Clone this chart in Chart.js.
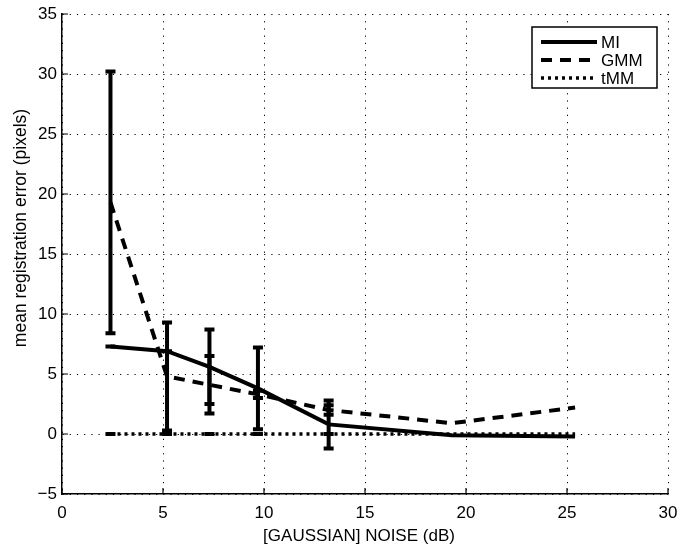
<!DOCTYPE html>
<html>
<head>
<meta charset="utf-8">
<script src="https://cdn.jsdelivr.net/npm/chart.js@4.4.1/dist/chart.umd.min.js"></script>
<style>
  body { margin: 0; background: #fff; }
  canvas { display: block; }
</style>
</head>
<body>
<canvas id="chart" width="679" height="553"></canvas>
<script>
// noise levels (dB) and mean registration error per method
const noiseDb = [2.4, 5.2, 7.3, 9.7, 13.2, 19.3, 25.4];
const miError = [7.3, 6.9, 5.6, 3.8, 0.8, -0.1, -0.2];
const gmmError = [19.3, 4.8, 4.1, 3.3, 2.0, 0.9, 2.2];
const tmmError = [0, 0, 0, 0, 0, 0, 0];

// half-length of the error bars (null = no bar drawn)
const miSpread = [0, 0, 3.1, 3.4, 2.0, null, null];
const gmmSpread = [10.9, 4.5, 2.4, 0.3, 0.4, null, null];
const tmmSpread = [0, 0, 0, 0, 0, null, null];

const xTicks = [0, 5, 10, 15, 20, 25, 30];
const yTicks = [-5, 0, 5, 10, 15, 20, 25, 30, 35];

const seriesNames = ['MI', 'GMM', 'tMM'];
const xTitle = '[GAUSSIAN] NOISE (dB)';
const yTitle = 'mean registration error (pixels)';

const FONT = 'Liberation Sans, Arial, Helvetica, sans-serif';

function toPoints(ys) {
    return noiseDb.map((x, i) => ({ x: x, y: ys[i] }));
}

// vertical error bars with caps, drawn from the scales
const errorBars = {
    id: 'errorBars',
    afterDatasetsDraw(chart) {
        const ctx = chart.ctx;
        const xs = chart.scales.x, ys = chart.scales.y;
        chart.data.datasets.forEach(ds => {
            if (!ds.spread) return;
            ds.data.forEach((p, i) => {
                const e = ds.spread[i];
                if (e === null || e === undefined) return;
                const px = xs.getPixelForValue(p.x);
                const top = ys.getPixelForValue(p.y + e);
                const bot = ys.getPixelForValue(p.y - e);
                ctx.save();
                ctx.strokeStyle = '#000';
                ctx.lineWidth = 4;
                ctx.setLineDash([]);
                ctx.beginPath();
                ctx.moveTo(px, top);
                ctx.lineTo(px, bot);
                ctx.moveTo(px - 5, top);
                ctx.lineTo(px + 5, top);
                ctx.moveTo(px - 5, bot);
                ctx.lineTo(px + 5, bot);
                ctx.stroke();
                ctx.restore();
            });
        });
    }
};

// inward tick marks on the left and bottom axes, plus both axis titles
const axisExtras = {
    id: 'axisExtras',
    afterDraw(chart) {
        const ctx = chart.ctx;
        const xs = chart.scales.x, ys = chart.scales.y;
        const area = chart.chartArea;
        ctx.save();
        ctx.strokeStyle = '#000';
        ctx.lineWidth = 1.2;
        ctx.beginPath();
        xTicks.forEach(v => {
            const px = xs.getPixelForValue(v);
            ctx.moveTo(px, area.bottom);
            ctx.lineTo(px, area.bottom - 6);
        });
        yTicks.forEach(v => {
            const py = ys.getPixelForValue(v);
            ctx.moveTo(area.left, py);
            ctx.lineTo(area.left + 6, py);
        });
        ctx.stroke();

        ctx.font = '17px ' + FONT;
        ctx.fillStyle = '#000';
        ctx.textAlign = 'center';
        ctx.textBaseline = 'middle';
        ctx.fillText(xTitle, 359, 536);

        ctx.translate(21, 228);
        ctx.rotate(-Math.PI / 2);
        ctx.font = '17.5px ' + FONT;
        ctx.fillText(yTitle, 0, 0);
        ctx.restore();
    }
};

// boxed legend in the upper right corner
const boxLegend = {
    id: 'boxLegend',
    afterDraw(chart) {
        const ctx = chart.ctx;
        const bx = 532, by = 27, bw = 125, bh = 61;
        ctx.save();
        ctx.fillStyle = '#fff';
        ctx.fillRect(bx, by, bw, bh);
        ctx.strokeStyle = '#000';
        ctx.lineWidth = 1.5;
        ctx.strokeRect(bx, by, bw, bh);
        ctx.font = '17px ' + FONT;
        ctx.textBaseline = 'middle';
        ctx.fillStyle = '#000';
        chart.data.datasets.forEach((ds, i) => {
            const y = by + 15 + i * 18;
            ctx.lineWidth = ds.borderWidth;
            ctx.setLineDash(ds.borderDash || []);
            ctx.beginPath();
            ctx.moveTo(541, y);
            ctx.lineTo(597, y);
            ctx.stroke();
            ctx.setLineDash([]);
            ctx.fillText(ds.label, 601, y + 1);
        });
        ctx.restore();
    }
};

new Chart(document.getElementById('chart'), {
    type: 'line',
    data: {
        datasets: [
            {
                label: seriesNames[0],
                data: toPoints(miError),
                spread: miSpread,
                borderColor: '#000',
                borderWidth: 4,
                pointRadius: 0
            },
            {
                label: seriesNames[1],
                data: toPoints(gmmError),
                spread: gmmSpread,
                borderColor: '#000',
                borderWidth: 4,
                borderDash: [11, 8],
                pointRadius: 0
            },
            {
                label: seriesNames[2],
                data: toPoints(tmmError),
                spread: tmmSpread,
                borderColor: '#000',
                borderWidth: 3.5,
                borderDash: [3, 4],
                pointRadius: 0
            }
        ]
    },
    options: {
        responsive: false,
        animation: false,
        devicePixelRatio: 1,
        layout: { padding: { top: 14, right: 11, left: 0, bottom: 0 } },
        plugins: {
            legend: { display: false },
            tooltip: { enabled: false }
        },
        scales: {
            x: {
                type: 'linear',
                min: 0,
                max: 30,
                afterFit: s => {
                    s.height = 59;
                    s.paddingLeft = 0;
                    s.paddingRight = 0;
                },
                afterBuildTicks: s => { s.ticks = xTicks.map(v => ({ value: v })); },
                grid: { color: '#000', lineWidth: 1, drawTicks: false },
                border: { color: '#000', width: 1.5, dash: [1.2, 6] },
                ticks: {
                    color: '#000',
                    padding: 9,
                    maxRotation: 0,
                    font: { family: FONT, size: 17 }
                }
            },
            y: {
                type: 'linear',
                min: -5,
                max: 35,
                afterFit: s => {
                    s.width = 62;
                    s.paddingTop = 0;
                    s.paddingBottom = 0;
                },
                afterBuildTicks: s => { s.ticks = yTicks.map(v => ({ value: v })); },
                grid: { color: '#000', lineWidth: 1, drawTicks: false },
                border: { color: '#000', width: 1.5, dash: [1.2, 6] },
                ticks: {
                    color: '#000',
                    padding: 5,
                    font: { family: FONT, size: 17 },
                    callback: v => (v < 0 ? '\u2212' + Math.abs(v) : String(v))
                }
            }
        }
    },
    plugins: [errorBars, axisExtras, boxLegend]
});
</script>
</body>
</html>
